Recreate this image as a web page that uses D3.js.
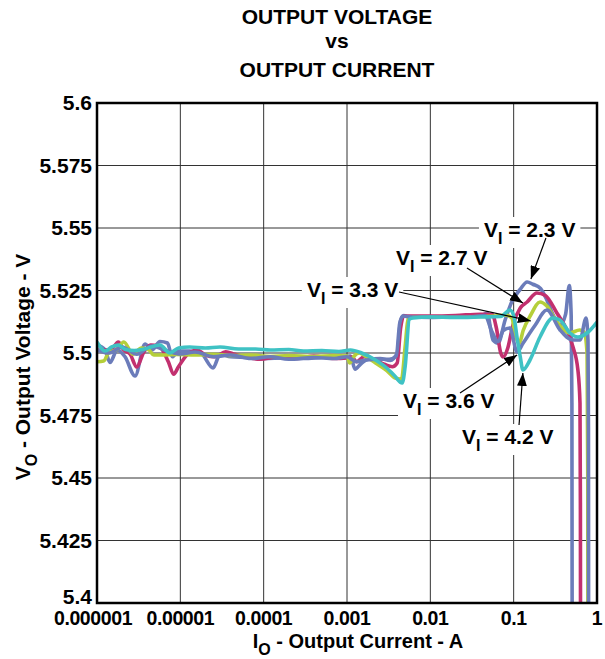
<!DOCTYPE html>
<html>
<head>
<meta charset="utf-8">
<script src="https://cdn.jsdelivr.net/npm/d3@7"></script>
<style>
body { margin: 0; background: #fff; }
text { font-family: "Liberation Sans", Arial, sans-serif; font-weight: bold; fill: #000; }
</style>
</head>
<body>
<script>
// axis ticks
var xTicks = [1e-6, 1e-5, 1e-4, 1e-3, 1e-2, 1e-1, 1];
var xTickLabels = ["0.000001", "0.00001", "0.0001", "0.001", "0.01", "0.1", "1"];
var yTicks = [5.4, 5.425, 5.45, 5.475, 5.5, 5.525, 5.55, 5.575, 5.6];
var yTickLabels = ["5.4", "5.425", "5.45", "5.475", "5.5", "5.525", "5.55", "5.575", "5.6"];

// series: [output current A, output voltage V]
var vi23 = [[1e-6, 5.5032], [1.25e-6, 5.5012], [1.43e-6, 5.4962], [1.75e-6, 5.5012], [2.17e-6, 5.4985], [2.86e-6, 5.4908], [3.77e-6, 5.5036], [4.57e-6, 5.5012], [5.7e-6, 5.5046], [7e-6, 5.504], [8e-6, 5.4985], [9.5e-6, 5.5008], [1.3e-5, 5.5008], [1.8e-5, 5.4996], [2.47e-5, 5.494], [3e-5, 5.4995], [4e-5, 5.4985], [6e-5, 5.4982], [1e-4, 5.4978], [1.8e-4, 5.498], [3e-4, 5.4978], [5e-4, 5.4982], [8e-4, 5.4985], [1.1e-3, 5.4988], [1.25e-3, 5.4935], [1.45e-3, 5.4955], [1.8e-3, 5.4975], [2.5e-3, 5.4978], [3.3e-3, 5.497], [4e-3, 5.5], [4.4e-3, 5.513], [4.8e-3, 5.515], [5.3e-3, 5.5145], [1e-2, 5.5142], [2e-2, 5.5145], [4e-2, 5.5148], [4.8e-2, 5.516], [5.65e-2, 5.5052], [6.5e-2, 5.504], [7.9e-2, 5.5132], [9.5e-2, 5.5205], [0.12, 5.5255], [0.145, 5.5284], [0.17, 5.5275], [0.21, 5.5258], [0.25, 5.5212], [0.3, 5.515], [0.36, 5.5112], [0.42, 5.5155], [0.465, 5.527], [0.49, 5.515], [0.5, 5.48], [0.505, 5.35]];
var vi27 = [[1e-6, 5.5012], [1.25e-6, 5.5012], [1.5e-6, 5.5016], [1.8e-6, 5.5044], [2.1e-6, 5.5012], [2.5e-6, 5.4995], [3e-6, 5.4944], [3.6e-6, 5.5], [4.4e-6, 5.5032], [5.5e-6, 5.5028], [7.2e-6, 5.4964], [8.3e-6, 5.4915], [9.5e-6, 5.4945], [1.2e-5, 5.4992], [1.6e-5, 5.5012], [2e-5, 5.4992], [2.6e-5, 5.4985], [3.5e-5, 5.5005], [4.5e-5, 5.4995], [6e-5, 5.4985], [9e-5, 5.4975], [1.5e-4, 5.4985], [2.5e-4, 5.4978], [4e-4, 5.4988], [7e-4, 5.4978], [1e-3, 5.498], [1.15e-3, 5.4984], [1.3e-3, 5.4965], [1.6e-3, 5.4985], [2e-3, 5.4975], [2.8e-3, 5.4955], [3.5e-3, 5.4945], [4e-3, 5.496], [4.4e-3, 5.51], [4.8e-3, 5.5148], [6e-3, 5.5148], [1e-2, 5.5148], [2e-2, 5.515], [4e-2, 5.5155], [5.5e-2, 5.5155], [6.2e-2, 5.51], [7e-2, 5.5], [7.5e-2, 5.4984], [8.5e-2, 5.502], [9.8e-2, 5.5112], [0.12, 5.518], [0.145, 5.5204], [0.19, 5.524], [0.24, 5.523], [0.33, 5.516], [0.436, 5.5092], [0.515, 5.5024], [0.59, 5.4932], [0.625, 5.48], [0.632, 5.44], [0.636, 5.35]];
var vi33 = [[1e-6, 5.4965], [1.2e-6, 5.4968], [1.4e-6, 5.5004], [1.7e-6, 5.5012], [2.1e-6, 5.5044], [2.7e-6, 5.4995], [3.4e-6, 5.502], [4.2e-6, 5.5012], [4.8e-6, 5.4992], [6e-6, 5.4992], [9e-6, 5.4994], [1.5e-5, 5.4992], [2.5e-5, 5.4995], [4e-5, 5.499], [7e-5, 5.4992], [1.2e-4, 5.4986], [2e-4, 5.499], [4e-4, 5.4986], [7e-4, 5.499], [1e-3, 5.4988], [1.08e-3, 5.496], [1.2e-3, 5.4985], [1.4e-3, 5.5], [1.7e-3, 5.4985], [2.2e-3, 5.496], [3e-3, 5.493], [3.8e-3, 5.49], [4.5e-3, 5.4895], [5e-3, 5.503], [5.4e-3, 5.5135], [6.2e-3, 5.5144], [1e-2, 5.5144], [2e-2, 5.5144], [4e-2, 5.5146], [6e-2, 5.5148], [8e-2, 5.5152], [9.5e-2, 5.514], [0.105, 5.507], [0.117, 5.504], [0.13, 5.509], [0.16, 5.5152], [0.207, 5.5204], [0.25, 5.5188], [0.33, 5.5124], [0.47, 5.508], [0.62, 5.5092], [0.7, 5.5084], [0.76, 5.5], [0.775, 5.45], [0.78, 5.35]];
var vi36 = [[1e-6, 5.5012], [1.4e-6, 5.5], [2e-6, 5.5024], [3e-6, 5.4995], [4.5e-6, 5.5028], [7e-6, 5.5008], [1e-5, 5.4996], [1.5e-5, 5.5004], [2.5e-5, 5.4985], [4e-5, 5.4992], [7e-5, 5.4978], [1.2e-4, 5.4985], [2e-4, 5.4975], [4e-4, 5.4982], [7e-4, 5.4978], [1e-3, 5.4985], [1.3e-3, 5.4965], [1.7e-3, 5.4972], [2.4e-3, 5.4975], [3.2e-3, 5.4975], [3.9e-3, 5.4988], [4.3e-3, 5.512], [4.7e-3, 5.5148], [6e-3, 5.5144], [1e-2, 5.5144], [3e-2, 5.5144], [4.5e-2, 5.515], [5.5e-2, 5.5085], [6.5e-2, 5.5045], [7.5e-2, 5.509], [9e-2, 5.51], [0.11, 5.5004], [0.13, 5.504], [0.18, 5.511], [0.25, 5.5172], [0.36, 5.5092], [0.515, 5.5052], [0.625, 5.5052], [0.74, 5.514], [0.78, 5.505], [0.79, 5.47], [0.795, 5.35]];
var vi42 = [[1e-6, 5.5044], [1.25e-6, 5.5008], [1.5e-6, 5.5024], [1.8e-6, 5.5032], [2.2e-6, 5.5014], [2.8e-6, 5.501], [3.7e-6, 5.5016], [5.7e-6, 5.5032], [7.5e-6, 5.5], [9.5e-6, 5.502], [1.3e-5, 5.5024], [2e-5, 5.502], [3e-5, 5.5024], [5e-5, 5.5016], [8e-5, 5.5016], [1.2e-4, 5.5012], [2e-4, 5.5014], [3e-4, 5.5008], [5e-4, 5.501], [8e-4, 5.5006], [1.1e-3, 5.5012], [1.5e-3, 5.5], [2.2e-3, 5.4972], [3e-3, 5.494], [3.7e-3, 5.491], [4.6e-3, 5.488], [5e-3, 5.495], [5.6e-3, 5.5135], [6.2e-3, 5.514], [1e-2, 5.5144], [2e-2, 5.5142], [4e-2, 5.5144], [7e-2, 5.5146], [9e-2, 5.5172], [0.1, 5.515], [0.11, 5.506], [0.12, 5.4985], [0.129, 5.4932], [0.157, 5.4972], [0.207, 5.5064], [0.296, 5.514], [0.36, 5.5132], [0.474, 5.508], [0.59, 5.5064], [0.76, 5.508], [1, 5.5124]];

var seriesData = [vi23, vi27, vi33, vi36, vi42];
var seriesColors = ["#6b7cba", "#c2306f", "#b5cf3a", "#6b7cba", "#3fc2c4"];

// annotations: input voltage, text anchor [I, V], arrow start, arrow tip
var noteVolts = ["2.3", "2.7", "3.3", "3.6", "4.2"];
var noteText = [[0.044, 5.5464], [0.00387, 5.5352], [3.3e-4, 5.5224], [0.0047, 5.478], [0.024, 5.4636]];
var noteFrom = [[0.244, 5.546], [0.0275, 5.534], [0.00421, 5.5244], [0.0227, 5.484], [0.116, 5.4712]];
var noteTo = [[0.161, 5.5296], [0.129, 5.52], [0.161, 5.5128], [0.11, 5.4992], [0.129, 5.492]];

var W = 605, H = 659;
var margin = { left: 97, top: 103, right: 8, bottom: 56 };
var pw = W - margin.left - margin.right, ph = H - margin.top - margin.bottom;
var fs = 21;

var svg = d3.select('body').append('svg')
    .attr('width', W)
    .attr('height', H);

var x = d3.scaleLog().domain([1e-6, 1]).range([0, pw]);
var y = d3.scaleLinear().domain([5.4, 5.6]).range([ph, 0]);

var defs = svg.append('defs');
defs.append('clipPath').attr('id', 'plotclip')
    .append('rect').attr('width', pw).attr('height', ph);
defs.append('marker')
    .attr('id', 'arrow')
    .attr('viewBox', '0 -5 13 10')
    .attr('refX', 13)
    .attr('refY', 0)
    .attr('markerWidth', 13)
    .attr('markerHeight', 10)
    .attr('markerUnits', 'userSpaceOnUse')
    .attr('orient', 'auto')
    .append('path')
    .attr('d', 'M0,-5L13,0L0,5Z')
    .attr('fill', '#000');

// title
var title = ["OUTPUT VOLTAGE", "vs", "OUTPUT CURRENT"];
var titleY = [24, 48, 77];
title.forEach(function (t, i) {
    svg.append('text')
        .attr('x', margin.left + pw / 2 - 10)
        .attr('y', titleY[i])
        .attr('text-anchor', 'middle')
        .style('font-size', fs + 'px')
        .text(t);
});

var g = svg.append('g').attr('transform', 'translate(' + margin.left + ',' + margin.top + ')');

// grid
g.append('g').selectAll('line').data(xTicks).enter().append('line')
    .attr('x1', function (d) { return x(d); }).attr('x2', function (d) { return x(d); })
    .attr('y1', 0).attr('y2', ph)
    .attr('stroke', '#333').attr('stroke-width', 1);
g.append('g').selectAll('line').data(yTicks).enter().append('line')
    .attr('x1', 0).attr('x2', pw)
    .attr('y1', function (d) { return y(d); }).attr('y2', function (d) { return y(d); })
    .attr('stroke', '#333').attr('stroke-width', 1);

// curves
var lineFn = d3.line()
    .x(function (d) { return x(d[0]); })
    .y(function (d) { return y(d[1]); })
    .curve(d3.curveMonotoneX);
var curves = g.append('g').attr('clip-path', 'url(#plotclip)');
seriesData.forEach(function (s, i) {
    curves.append('path')
        .datum(s)
        .attr('d', lineFn)
        .attr('fill', 'none')
        .attr('stroke', seriesColors[i])
        .attr('stroke-width', 3.6)
        .attr('stroke-linejoin', 'round');
});

// frame
g.append('rect')
    .attr('width', pw).attr('height', ph)
    .attr('fill', 'none').attr('stroke', '#000').attr('stroke-width', 2.5);

// tick labels
g.append('g').selectAll('text').data(xTicks).enter().append('text')
    .attr('x', function (d, i) { return x(d) - (i === 0 ? 4 : 0); })
    .attr('y', ph + 22)
    .attr('text-anchor', 'middle')
    .style('font-size', '19.5px')
    .style('letter-spacing', '-0.4px')
    .text(function (d, i) { return xTickLabels[i]; });
g.append('g').selectAll('text').data(yTicks).enter().append('text')
    .attr('x', -5)
    .attr('y', function (d, i) { return y(d) + (i === 0 ? 1 : 7); })
    .attr('text-anchor', 'end')
    .style('font-size', fs + 'px')
    .text(function (d, i) { return yTickLabels[i]; });

// axis titles
var xt = svg.append('text')
    .attr('x', margin.left + pw / 2 + 11)
    .attr('y', H - 11)
    .attr('text-anchor', 'middle')
    .style('font-size', '20px');
xt.append('tspan').text('I');
xt.append('tspan').attr('dy', 7).style('font-size', '16px').text('O');
xt.append('tspan').attr('dy', -7).text(' - Output Current - A');

var yt = svg.append('text')
    .attr('transform', 'translate(30,' + (margin.top + ph / 2 + 14) + ') rotate(-90)')
    .attr('text-anchor', 'middle')
    .style('font-size', fs + 'px');
yt.append('tspan').text('V');
yt.append('tspan').attr('dy', 7).style('font-size', '16px').text('O');
yt.append('tspan').attr('dy', -7).text(' - Output Voltage - V');

// annotations
noteVolts.forEach(function (v, i) {
    var ng = g.append('g');
    var bg = ng.append('rect').attr('fill', '#fff');
    var t = ng.append('text')
        .attr('x', x(noteText[i][0]))
        .attr('y', y(noteText[i][1]))
        .style('font-size', fs + 'px');
    t.append('tspan').text('V');
    t.append('tspan').attr('dy', 7).style('font-size', '16px').text('I');
    t.append('tspan').attr('dy', -7).text(' = ' + v + ' V');
    var bb = t.node().getBBox();
    bg.attr('x', bb.x - 5).attr('y', bb.y - 1).attr('width', bb.width + 10).attr('height', bb.height + 2);
    ng.append('line')
        .attr('x1', x(noteFrom[i][0])).attr('y1', y(noteFrom[i][1]))
        .attr('x2', x(noteTo[i][0])).attr('y2', y(noteTo[i][1]))
        .attr('stroke', '#000').attr('stroke-width', 1.2)
        .attr('marker-end', 'url(#arrow)');
});
</script>
</body>
</html>
